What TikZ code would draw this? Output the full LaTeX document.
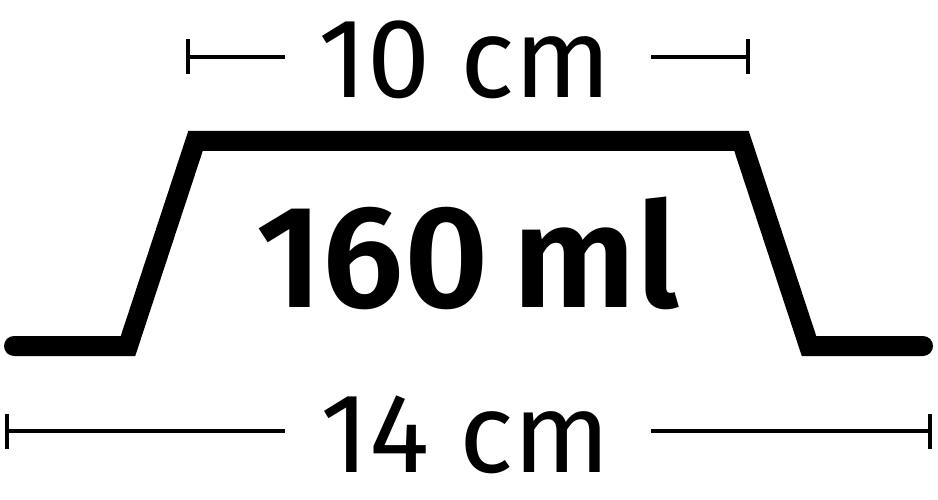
\documentclass[tikz,border=0pt]{standalone}
\usepackage{fontspec}
\setmainfont{Fira Sans}
\newfontfamily\volfont{Fira Sans SemiBold}
\begin{document}
\begin{tikzpicture}[x=1pt,y=-1pt,
  outline/.style={line width=20pt,line cap=round,line join=miter},
  dimline/.style={line width=4pt},
  dimlabel/.style={inner sep=0pt,anchor=base,font=\fontsize{113}{120}\selectfont},
  vollabel/.style={inner sep=0pt,anchor=base,font=\volfont\fontsize{146}{150}\selectfont}]
\useasboundingbox (0,0) rectangle (938,500);
% trapezoid outline
\coordinate (p0) at (14,346);
\coordinate (p1) at (128,346);
\coordinate (p2) at (195.5,141);
\coordinate (p3) at (741.5,141);
\coordinate (p4) at (809,346);
\coordinate (p5) at (923,346);
\draw[outline] (p0) -- (p1) -- (p2) -- (p3) -- (p4) -- (p5);
% labels
\node[dimlabel] (top) at (465,98) {10 cm};
\node[vollabel] (vol) at (468,307) {160\kern24pt ml};
\node[dimlabel] (bot) at (465,472) {14 cm};
% top dimension
\coordinate (tl) at (188,57);
\coordinate (tle) at (285,57);
\coordinate (tr) at (748,57);
\coordinate (tre) at (651,57);
\draw[dimline] (tl) -- (tle);
\draw[dimline] (tre) -- (tr);
\draw[dimline] ([yshift=-17pt]tl) -- ([yshift=18pt]tl);
\draw[dimline] ([yshift=-17pt]tr) -- ([yshift=18pt]tr);
% bottom dimension
\coordinate (bl) at (7,431);
\coordinate (ble) at (285,431);
\coordinate (br) at (930,431);
\coordinate (bre) at (651,431);
\draw[dimline] (bl) -- (ble);
\draw[dimline] (bre) -- (br);
\draw[dimline] ([yshift=-18pt]bl) -- ([yshift=17pt]bl);
\draw[dimline] ([yshift=-18pt]br) -- ([yshift=17pt]br);
\end{tikzpicture}
\end{document}
